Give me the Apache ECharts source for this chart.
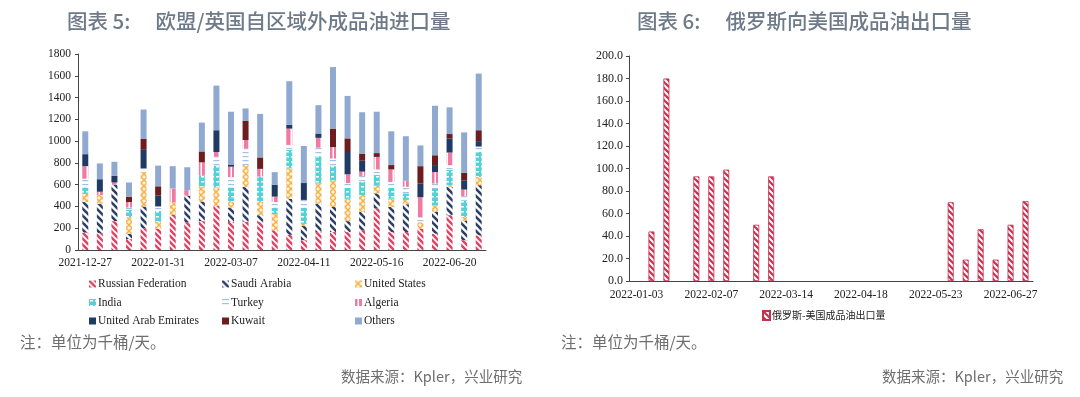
<!DOCTYPE html>
<html>
<head>
<meta charset="utf-8">
<script src="https://cdn.jsdelivr.net/npm/echarts@6/dist/echarts.min.js"></script>
<style>
  html, body { margin: 0; padding: 0; background: #fff; }
  #chart { width: 1080px; height: 397px; }
</style>
</head>
<body>
<div id="chart"></div>
<script>
// 图表5 周度日期
var weeksEU = ['2021-12-27', '2022-01-03', '2022-01-10', '2022-01-17', '2022-01-24', '2022-01-31', '2022-02-07',
  '2022-02-14', '2022-02-21', '2022-02-28', '2022-03-07', '2022-03-14', '2022-03-21', '2022-03-28', '2022-04-04',
  '2022-04-11', '2022-04-18', '2022-04-25', '2022-05-02', '2022-05-09', '2022-05-16', '2022-05-23', '2022-05-30',
  '2022-06-06', '2022-06-13', '2022-06-20', '2022-06-27', '2022-07-04']

// 各来源国 千桶/天
var russia = [160, 155, 265, 100, 200, 195, 310, 255, 265, 405, 260, 260, 260, 180, 140, 90, 165, 165, 165, 180, 380, 165, 165, 195, 150, 320, 90, 135]
var saudi = [280, 270, 335, 50, 200, 0, 10, 245, 180, 0, 130, 320, 60, 0, 330, 130, 260, 230, 100, 170, 140, 230, 255, 0, 200, 260, 180, 460]
var usa = [75, 80, 0, 150, 320, 65, 120, 0, 140, 170, 55, 200, 125, 150, 280, 20, 185, 245, 205, 155, 70, 75, 40, 60, 60, 15, 35, 75]
var india = [60, 0, 0, 70, 0, 100, 0, 0, 100, 200, 130, 0, 230, 60, 170, 150, 250, 130, 100, 120, 100, 100, 60, 0, 150, 140, 150, 230]
var turkey = [80, 0, 0, 20, 30, 40, 0, 0, 0, 80, 95, 150, 0, 50, 45, 70, 80, 70, 45, 55, 50, 55, 60, 45, 50, 45, 40, 50]
var algeria = [115, 30, 20, 50, 0, 0, 125, 50, 120, 45, 95, 80, 70, 50, 150, 0, 90, 105, 80, 40, 115, 115, 55, 185, 105, 115, 60, 0]
var uae = [110, 115, 60, 0, 170, 100, 0, 0, 0, 200, 20, 0, 0, 110, 35, 155, 40, 0, 205, 100, 0, 0, 0, 125, 65, 130, 85, 50]
var kuwait = [0, 0, 0, 50, 100, 85, 0, 0, 100, 0, 0, 175, 105, 0, 0, 0, 0, 170, 125, 65, 35, 40, 0, 160, 90, 40, 70, 100]
var others = [210, 145, 130, 130, 270, 190, 205, 210, 265, 410, 485, 115, 400, 115, 400, 340, 260, 565, 390, 380, 380, 310, 410, 190, 455, 245, 370, 520]

// 图表6
var weeksRU = ['2022-01-03', '2022-01-10', '2022-01-17', '2022-01-24', '2022-01-31', '2022-02-07', '2022-02-14',
  '2022-02-21', '2022-02-28', '2022-03-07', '2022-03-14', '2022-03-21', '2022-03-28', '2022-04-04', '2022-04-11',
  '2022-04-18', '2022-04-25', '2022-05-02', '2022-05-09', '2022-05-16', '2022-05-23', '2022-05-30', '2022-06-06',
  '2022-06-13', '2022-06-20', '2022-06-27', '2022-07-04']
var ruToUs = ['-', 44, 180, '-', 93, 93, 99, '-', 50, 93, '-', '-', '-', '-', '-', '-', '-', '-', '-', '-', '-',
  70, 19, 46, 19, 50, 71]

// 纹理填充
function tile(size, draw) {
  var c = document.createElement('canvas')
  c.width = size
  c.height = size
  var ctx = c.getContext('2d')
  draw(ctx, size)
  return { image: c, repeat: 'repeat' }
}
function diag(bg, fg, size, lw) {
  return tile(size, function(ctx, s) {
    ctx.fillStyle = bg
    ctx.fillRect(0, 0, s, s)
    ctx.strokeStyle = fg
    ctx.lineWidth = lw
    for (var k = -1; k <= 1; k++) {
      ctx.beginPath()
      ctx.moveTo(-1, -1 + k * s)
      ctx.lineTo(s + 1, s + 1 + k * s)
      ctx.stroke()
    }
  })
}
var patRussia = diag('#ffffff', '#dc4466', 6, 2.5)
var patSaudi = diag('#ffffff', '#2c3f68', 7, 2.6)
var patUS = tile(6, function(ctx, s) {
  ctx.fillStyle = '#fff3dc'
  ctx.fillRect(0, 0, s, s)
  ctx.strokeStyle = '#f4b24a'
  ctx.lineWidth = 1.4
  for (var k = -1; k <= 1; k++) {
    ctx.beginPath(); ctx.moveTo(-1, -1 + k * s); ctx.lineTo(s + 1, s + 1 + k * s); ctx.stroke()
    ctx.beginPath(); ctx.moveTo(-1, s + 1 + k * s); ctx.lineTo(s + 1, -1 + k * s); ctx.stroke()
  }
})
var patIndia = tile(5, function(ctx, s) {
  ctx.fillStyle = '#52d2d6'
  ctx.fillRect(0, 0, s, s)
  ctx.fillStyle = '#ffffff'
  ctx.fillRect(1, 1, 3, 1.5)
})
var patTurkey = tile(4, function(ctx, s) {
  ctx.fillStyle = '#ffffff'
  ctx.fillRect(0, 0, s, s)
  ctx.fillStyle = '#a4c0e6'
  ctx.fillRect(0, 0, s, 1.2)
})
var patAlgeria = tile(6, function(ctx, s) {
  ctx.fillStyle = '#f07aa3'
  ctx.fillRect(0, 0, s, s)
  ctx.fillStyle = '#ffffff'
  ctx.fillRect(2.5, 0, 1.5, s)
})
var patRU = diag('#ffffff', '#c8304f', 6, 2.2)

var serif = '"Liberation Serif", "DejaVu Serif", serif'
var cjk = '"Noto Sans CJK SC", sans-serif'
var axisColor = '#444'

var chart = echarts.init(document.getElementById('chart'))

function barSeries(name, data, color) {
  return {
    name: name,
    type: 'bar',
    stack: 'eu',
    xAxisIndex: 0,
    yAxisIndex: 0,
    barWidth: 6,
    data: data,
    itemStyle: { color: color }
  }
}

var legendBase = {
  orient: 'vertical',
  itemWidth: 7,
  itemHeight: 7,
  itemGap: 6.5,
  icon: 'rect',
  selectedMode: false,
  textStyle: { fontFamily: serif, fontSize: 11.5, color: '#222', lineHeight: 12, padding: [0, 0, 0, -3] }
}

chart.setOption({
  animation: false,
  backgroundColor: '#ffffff',
  graphic: [
    { type: 'text', left: 67, top: 11, style: { text: '图表 5:\u3000 欧盟/英国自区域外成品油进口量', fontFamily: cjk, fontSize: 20.5, fontWeight: 500, fill: '#6f7a89' } },
    { type: 'text', left: 637, top: 11, style: { text: '图表 6:\u3000 俄罗斯向美国成品油出口量', fontFamily: cjk, fontSize: 20.5, fontWeight: 500, fill: '#6f7a89' } },
    { type: 'text', left: 20, top: 334, style: { text: '注：单位为千桶/天。', fontFamily: cjk, fontSize: 15.5, fill: '#6e6e6e' } },
    { type: 'text', left: 561, top: 334, style: { text: '注：单位为千桶/天。', fontFamily: cjk, fontSize: 15.5, fill: '#6e6e6e' } },
    { type: 'text', left: 341, top: 369, style: { text: '数据来源：Kpler，兴业研究', fontFamily: cjk, fontSize: 14.5, fill: '#6e6e6e' } },
    { type: 'text', left: 882, top: 369, style: { text: '数据来源：Kpler，兴业研究', fontFamily: cjk, fontSize: 14.5, fill: '#6e6e6e' } }
  ],
  legend: [
    Object.assign({ left: 84, top: 273, data: ['Russian Federation', 'India', 'United Arab Emirates'] }, legendBase),
    Object.assign({ left: 217, top: 273, data: ['Saudi Arabia', 'Turkey', 'Kuwait'] }, legendBase),
    Object.assign({ left: 350, top: 273, data: ['United States', 'Algeria', 'Others'] }, legendBase),
    {
      left: 757,
      top: 305,
      itemWidth: 7,
      itemHeight: 9,
      icon: 'rect',
      selectedMode: false,
      data: ['俄罗斯-美国成品油出口量'],
      textStyle: { fontFamily: cjk, fontSize: 10, color: '#222', padding: [0, 0, 0, -3] }
    }
  ],
  grid: [
    { left: 78, right: 594, top: 54, bottom: 147 },
    { left: 629, right: 47, top: 56, bottom: 116 }
  ],
  xAxis: [
    {
      type: 'category',
      gridIndex: 0,
      data: weeksEU,
      axisLine: { lineStyle: { color: axisColor } },
      axisTick: { length: 3, interval: 0, lineStyle: { color: axisColor } },
      axisLabel: { interval: 4, fontFamily: serif, fontSize: 11.5, color: '#222', margin: 7 }
    },
    {
      type: 'category',
      gridIndex: 1,
      data: weeksRU,
      axisLine: { lineStyle: { color: axisColor } },
      axisTick: { length: 3, interval: 0, lineStyle: { color: axisColor } },
      axisLabel: { interval: 4, fontFamily: serif, fontSize: 11.5, color: '#222', margin: 8 }
    }
  ],
  yAxis: [
    {
      type: 'value',
      gridIndex: 0,
      min: 0,
      max: 1800,
      interval: 200,
      splitLine: { show: false },
      axisLine: { show: true, lineStyle: { color: axisColor } },
      axisTick: { show: true, length: 3, lineStyle: { color: axisColor } },
      axisLabel: {
        fontFamily: serif, fontSize: 11.5, color: '#222', margin: 7,
        formatter: function(v) { return String(v) }
      }
    },
    {
      type: 'value',
      gridIndex: 1,
      min: 0,
      max: 200,
      interval: 20,
      splitLine: { show: false },
      axisLine: { show: true, lineStyle: { color: axisColor } },
      axisTick: { show: true, length: 3, lineStyle: { color: axisColor } },
      axisLabel: {
        fontFamily: serif, fontSize: 12, color: '#222', margin: 6,
        formatter: function(v) { return v.toFixed(1) }
      }
    }
  ],
  series: [
    barSeries('Russian Federation', russia, patRussia),
    barSeries('Saudi Arabia', saudi, patSaudi),
    barSeries('United States', usa, patUS),
    barSeries('India', india, patIndia),
    barSeries('Turkey', turkey, patTurkey),
    barSeries('Algeria', algeria, patAlgeria),
    barSeries('United Arab Emirates', uae, '#1f3b63'),
    barSeries('Kuwait', kuwait, '#6e1d1f'),
    barSeries('Others', others, '#90a9d1'),
    {
      name: '俄罗斯-美国成品油出口量',
      type: 'bar',
      xAxisIndex: 1,
      yAxisIndex: 1,
      barWidth: 6,
      data: ruToUs,
      itemStyle: { color: patRU, borderColor: '#c8304f', borderWidth: 0.8 }
    }
  ]
})
</script>
</body>
</html>
